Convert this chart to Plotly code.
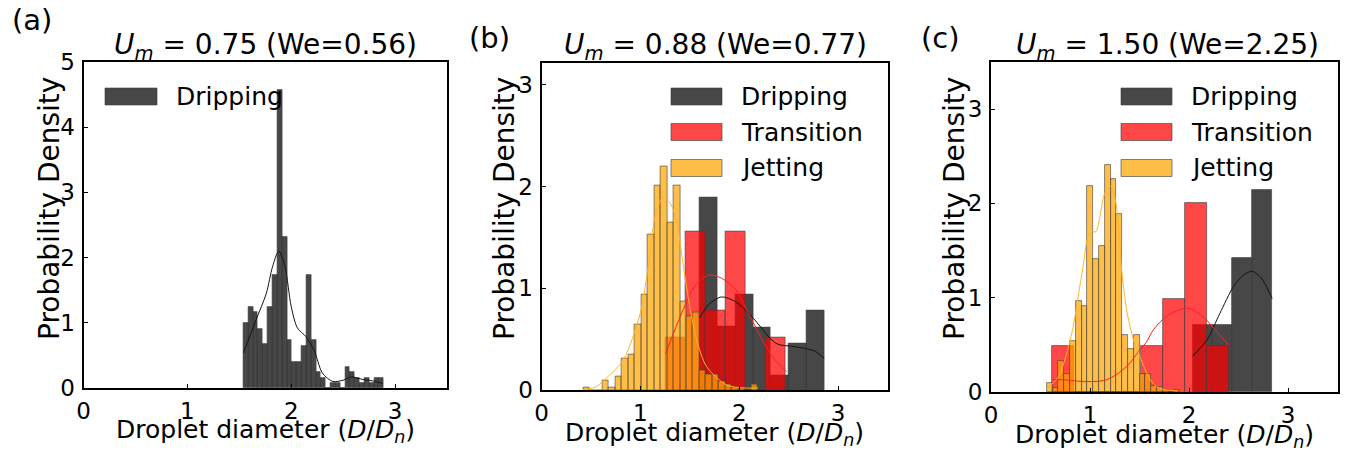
import plotly.graph_objects as go

W, H = 1345, 450

# ---------------- data ----------------
# Panel (a): U_m = 0.75, Dripping only
a_drip_start = 1.54
a_drip_width = 0.0466
a_drip_density = [0.99, 1.24, 1.16, 0.91, 0.67, 1.24, 1.73, 4.57, 2.31, 0.74,
                  0.40, 0.40, 0.65, 1.73, 0.74, 0.24, 0.16, 0.0, 0.08, 0.08,
                  0.0, 0.32, 0.24, 0.16, 0.08, 0.16, 0.08, 0.16, 0.16]
a_drip_kde_x = [1.54, 1.66, 1.76, 1.82, 1.88, 1.94, 2.00, 2.06, 2.14, 2.22,
                2.30, 2.40, 2.50, 2.58, 2.69, 2.78, 2.88]
a_drip_kde_y = [0.54, 1.04, 1.45, 1.86, 2.10, 1.86, 1.25, 0.92, 0.79, 0.58,
                0.23, 0.10, 0.12, 0.17, 0.13, 0.11, 0.07]

# Panel (b): U_m = 0.88
b_drip_start = 1.60
b_drip_width = 0.18
b_drip_density = [1.89, 0.62, 0.94, 0.61, 0.14, 0.46, 0.78]
b_trans_start = 1.256
b_trans_width = 0.202
b_trans_density = [0.52, 1.56, 0.78, 1.56, 0.0, 0.52]
b_jet_start = 0.42
b_jet_width = 0.0654
b_jet_density = [0.02, 0.0, 0.0, 0.09, 0.02, 0.13, 0.31, 0.35, 0.64, 0.94,
                 1.53, 2.01, 2.20, 1.65, 2.01, 0.87, 0.72, 0.76, 0.19, 0.15,
                 0.15, 0.08, 0.05, 0.02, 0.01, 0.0, 0.05]
b_drip_kde_x = [1.60, 1.69, 1.82, 1.96, 2.09, 2.20, 2.30, 2.39, 2.53, 2.66, 2.77, 2.86]
b_drip_kde_y = [0.71, 0.84, 0.915, 0.87, 0.76, 0.64, 0.52, 0.45, 0.43, 0.41, 0.38, 0.31]
b_trans_kde_x = [1.256, 1.42, 1.55, 1.69, 1.82, 1.96, 2.09, 2.23, 2.34, 2.48]
b_trans_kde_y = [0.36, 0.76, 1.02, 1.13, 1.10, 0.99, 0.76, 0.50, 0.32, 0.18]
b_jet_kde_x = [0.42, 0.55, 0.66, 0.83, 1.00, 1.08, 1.15, 1.225, 1.30, 1.37,
               1.43, 1.50, 1.57, 1.67, 1.87, 2.05, 2.19]
b_jet_kde_y = [0.0, 0.03, 0.12, 0.30, 0.76, 1.22, 1.71, 1.89, 1.84, 1.65,
               1.25, 0.82, 0.49, 0.23, 0.05, 0.02, 0.02]

# Panel (c): U_m = 1.50
c_drip_start = 2.037
c_drip_width = 0.20
c_drip_density = [0.71, 0.71, 1.42, 2.14]
c_trans_start = 0.615
c_trans_width = 0.224
c_trans_density = [0.49, 0.0, 0.0, 0.0, 0.49, 0.99, 2.0, 0.49]
c_jet_start = 0.563
c_jet_width = 0.0586
c_jet_density = [0.10, 0.04, 0.33, 0.19, 0.54, 0.96, 0.91, 2.19, 1.41, 1.55,
                 2.41, 2.26, 1.89, 0.60, 0.46, 0.60, 0.19, 0.19, 0.06, 0.05,
                 0.02, 0.0, 0.02]
c_drip_kde_x = [2.037, 2.18, 2.31, 2.45, 2.55, 2.64, 2.73, 2.84]
c_drip_kde_y = [0.38, 0.55, 0.83, 1.12, 1.24, 1.28, 1.21, 0.99]
c_trans_kde_x = [0.623, 0.73, 0.97, 1.17, 1.37, 1.505, 1.57, 1.64, 1.77, 1.98, 2.14, 2.28, 2.40]
c_trans_kde_y = [0.13, 0.13, 0.11, 0.13, 0.27, 0.45, 0.53, 0.66, 0.80, 0.89, 0.80, 0.64, 0.50]
c_jet_kde_x = [0.563, 0.68, 0.765, 0.83, 0.88, 0.93, 0.98, 1.017, 1.06, 1.10,
               1.15, 1.21, 1.263, 1.32, 1.37, 1.44, 1.505, 1.61, 1.70, 1.88]
c_jet_kde_y = [0.04, 0.16, 0.41, 0.69, 1.01, 1.33, 1.65, 1.70, 1.70, 1.86,
               2.11, 2.18, 2.00, 1.29, 0.87, 0.55, 0.37, 0.13, 0.04, 0.01]

panel_titles = ["<i>U</i><sub><i>m</i></sub> = 0.75 (We=0.56)",
                "<i>U</i><sub><i>m</i></sub> = 0.88 (We=0.77)",
                "<i>U</i><sub><i>m</i></sub> = 1.50 (We=2.25)"]
panel_letters = ["(a)", "(b)", "(c)"]
series_names = ["Dripping", "Transition", "Jetting"]
x_ticks = [0, 1, 2, 3]
y_ranges = [[0, 5], [0, 3.22], [0, 3.5]]
y_ticks = [[0, 1, 2, 3, 4, 5], [0, 1, 2, 3], [0, 1, 2, 3]]

# ---------------- styling ----------------
FONT = "DejaVu Sans"
ALPHA = 0.72
COLORS = {"Dripping": (0, 0, 0), "Transition": (255, 0, 0), "Jetting": (255, 165, 0)}
def rgba(c, a):
    return "rgba(%d,%d,%d,%s)" % (c[0], c[1], c[2], a)

# pixel boxes of the three axes (left, top, right, bottom)
boxes = [(83.5, 62, 447, 388), (541.5, 62.5, 887.5, 390), (991, 62, 1337.5, 392)]

def px(x):
    return x / W

def py(y):
    return 1 - y / H

fig = go.Figure()

def add_hist(name, start, width, dens, ax):
    centers = [start + width * (i + 0.5) for i in range(len(dens))]
    fig.add_trace(go.Bar(
        x=centers, y=dens, width=width, name=name, showlegend=False,
        marker=dict(color=rgba(COLORS[name], ALPHA),
                    line=dict(color="rgba(60,60,60,0.75)", width=0.8)),
        xaxis="x" + ax, yaxis="y" + ax))

def add_kde(name, xs, ys, ax):
    col = {"Dripping": "rgba(20,20,20,1)", "Transition": "rgba(255,30,30,1)",
           "Jetting": "rgba(255,180,40,1)"}[name]
    fig.add_trace(go.Scatter(
        x=xs, y=ys, mode="lines", line=dict(color=col, width=1, shape="spline", smoothing=0.8),
        showlegend=False, hoverinfo="skip", xaxis="x" + ax, yaxis="y" + ax))

# panel (a)
add_hist("Dripping", a_drip_start, a_drip_width, a_drip_density, "")
add_kde("Dripping", a_drip_kde_x, a_drip_kde_y, "")
# panel (b)
add_hist("Dripping", b_drip_start, b_drip_width, b_drip_density, "2")
add_hist("Transition", b_trans_start, b_trans_width, b_trans_density, "2")
add_hist("Jetting", b_jet_start, b_jet_width, b_jet_density, "2")
add_kde("Dripping", b_drip_kde_x, b_drip_kde_y, "2")
add_kde("Transition", b_trans_kde_x, b_trans_kde_y, "2")
add_kde("Jetting", b_jet_kde_x, b_jet_kde_y, "2")
# panel (c)
add_hist("Dripping", c_drip_start, c_drip_width, c_drip_density, "3")
add_hist("Transition", c_trans_start, c_trans_width, c_trans_density, "3")
add_hist("Jetting", c_jet_start, c_jet_width, c_jet_density, "3")
add_kde("Dripping", c_drip_kde_x, c_drip_kde_y, "3")
add_kde("Transition", c_trans_kde_x, c_trans_kde_y, "3")
add_kde("Jetting", c_jet_kde_x, c_jet_kde_y, "3")

TICKFONT = dict(family=FONT, size=23, color="black")
layout = dict(
    width=W, height=H, margin=dict(l=0, r=0, t=0, b=0, autoexpand=False),
    paper_bgcolor="white", plot_bgcolor="white",
    barmode="overlay", bargap=0, showlegend=False,
    font=dict(family=FONT, color="black"),
)
for i, (l, t, r, b) in enumerate(boxes):
    sfx = "" if i == 0 else str(i + 1)
    layout["xaxis" + sfx] = dict(
        domain=[px(l), px(r)], range=[0, 3.5], tickvals=x_ticks, automargin=False,
        anchor="y" + sfx, showline=True, mirror=True, linecolor="black", linewidth=2,
        ticks="inside", ticklen=4, tickwidth=1, tickcolor="black",
        showgrid=False, zeroline=False, tickfont=TICKFONT, ticklabelstandoff=1)
    layout["yaxis" + sfx] = dict(
        domain=[py(b), py(t)], range=y_ranges[i], tickvals=y_ticks[i], automargin=False,
        anchor="x" + sfx, showline=True, mirror=True, linecolor="black", linewidth=2,
        ticks="inside", ticklen=4, tickwidth=1, tickcolor="black",
        showgrid=False, zeroline=False, tickfont=TICKFONT, ticklabelstandoff=2)
fig.update_layout(**layout)

annotations = []
shapes = []
title_cx = [265, 715, 1167]
letter_pos = [(32, 20), (489, 38), (940, 38)]
ylab_x = [49, 504, 954]
xlab_y = [431, 434, 436]
for i in range(3):
    l, t, r, b = boxes[i]
    annotations.append(dict(text=panel_titles[i], x=px(title_cx[i]), y=py(46), xref="paper", yref="paper",
                            showarrow=False, xanchor="center", yanchor="middle",
                            font=dict(family=FONT, size=28, color="black")))
    annotations.append(dict(text=panel_letters[i], x=px(letter_pos[i][0]), y=py(letter_pos[i][1]),
                            xref="paper", yref="paper", showarrow=False, xanchor="center", yanchor="middle",
                            font=dict(family=FONT, size=29, color="black")))
    annotations.append(dict(text="Probability Density", x=px(ylab_x[i]), y=py(209), xref="paper", yref="paper",
                            showarrow=False, textangle=-90, xanchor="center", yanchor="middle",
                            font=dict(family=FONT, size=28, color="black")))
    annotations.append(dict(text="Droplet diameter (<i>D</i>/<i>D</i><sub><i>n</i></sub>)",
                            x=px((l + r) / 2), y=py(xlab_y[i]), xref="paper", yref="paper",
                            showarrow=False, xanchor="center", yanchor="middle",
                            font=dict(family=FONT, size=25, color="black")))

# legends (matplotlib-style wide swatches)
legend_specs = [
    (105, 157, 174, ["Dripping"]),
    (671, 722, 739, series_names),
    (1121, 1172, 1189, series_names),
]
row_centers = [96.5, 132, 168]
for (sx0, sx1, tx, names) in legend_specs:
    for j, nm in enumerate(names):
        yc = row_centers[j]
        shapes.append(dict(type="rect", xref="paper", yref="paper",
                           x0=px(sx0), x1=px(sx1), y0=py(yc + 8.5), y1=py(yc - 8.5),
                           fillcolor=rgba(COLORS[nm], ALPHA),
                           line=dict(color="rgba(60,60,60,0.6)", width=1)))
        annotations.append(dict(text=nm, x=px(tx), y=py(yc), xref="paper", yref="paper",
                                showarrow=False, xanchor="left", yanchor="middle",
                                font=dict(family=FONT, size=25, color="black")))

fig.update_layout(annotations=annotations, shapes=shapes)
fig.write_html("out.html")
